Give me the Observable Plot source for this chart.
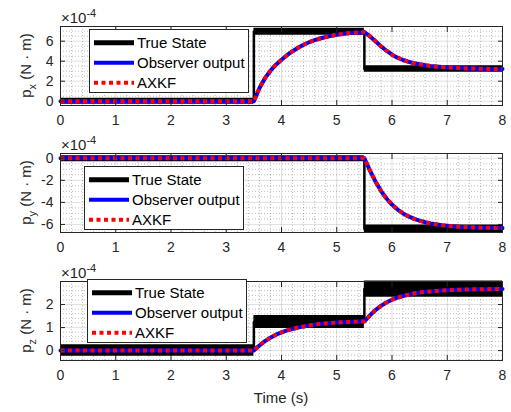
<!DOCTYPE html>
<html><head><meta charset="utf-8">
<script src="https://cdn.jsdelivr.net/npm/d3@7"></script>
<script src="https://cdn.jsdelivr.net/npm/@observablehq/plot@0.6"></script>
<style>
body{margin:0;background:#fff;}
#chart{position:relative;width:511px;height:412px;background:#fff;overflow:hidden;}
#chart > div{position:absolute;left:0;}
</style></head><body><div id="chart"></div>
<script>
// ---- data ----
const seriesNames = ["True State", "Observer output", "AXKF"];
const xTicks = [0, 1, 2, 3, 4, 5, 6, 7, 8];
const pxTicks = [0, 2, 4, 6];
const pyTicks = [-6, -4, -2, 0];
const pzTicks = [0, 1, 2];

// estimator time samples (s)
const tEst = [0, 3.5, 3.6, 3.7, 3.8, 3.9, 4.0, 4.1, 4.2, 4.3, 4.4, 4.5, 4.6, 4.7, 4.8, 4.9, 5.0, 5.1, 5.2, 5.3, 5.4, 5.5,
  5.6, 5.7, 5.8, 5.9, 6.0, 6.1, 6.2, 6.3, 6.4, 6.5, 6.6, 6.7, 6.8, 6.9, 7.0, 7.1, 7.2, 7.3, 7.4, 7.5, 7.6, 7.7, 7.8, 7.9, 8.0];
// observer output (AXKF coincides) in units of 1e-4 N·m
const pxEst = [0, 0, 1.3, 2.3, 3.05, 3.65, 4.15, 4.6, 5.0, 5.35, 5.65, 5.9, 6.1, 6.27, 6.42, 6.54, 6.64, 6.72, 6.79, 6.84, 6.88, 6.9,
  6.5, 6.0, 5.5, 5.05, 4.65, 4.35, 4.12, 3.94, 3.8, 3.69, 3.6, 3.52, 3.46, 3.41, 3.37, 3.34, 3.31, 3.29, 3.27, 3.26, 3.25, 3.24, 3.23, 3.23, 3.22];
const pyEst = [0, 0, 0, 0, 0, 0, 0, 0, 0, 0, 0, 0, 0, 0, 0, 0, 0, 0, 0, 0, 0, 0,
  -1.1, -2.1, -2.95, -3.65, -4.2, -4.65, -5.0, -5.27, -5.49, -5.66, -5.8, -5.91, -5.99, -6.07, -6.12, -6.17, -6.2, -6.23, -6.25, -6.27, -6.29, -6.3, -6.31, -6.32, -6.33];
const pzEst = [0, 0, 0.22, 0.41, 0.56, 0.69, 0.79, 0.88, 0.94, 1.0, 1.05, 1.09, 1.13, 1.16, 1.18, 1.2, 1.22, 1.23, 1.24, 1.25, 1.26, 1.27,
  1.53, 1.76, 1.94, 2.09, 2.21, 2.3, 2.37, 2.43, 2.48, 2.52, 2.55, 2.57, 2.59, 2.61, 2.62, 2.63, 2.64, 2.65, 2.65, 2.66, 2.66, 2.66, 2.67, 2.67, 2.67];

// true state: piecewise-constant levels between switch times, with noise spread
const tSwitch = [0, 3.5, 5.5, 8];
const pxTrue = [0, 6.95, 3.22];
const pxSpread = [0.3, 0.35, 0.33];
const pyTrue = [-0.05, -0.05, -6.4];
const pySpread = [0.27, 0.27, 0.36];
const pzTrue = [0, 1.24, 2.67];
const pzSpread = [0.25, 0.28, 0.35];

// ---- drawing ----
const INK = "#262626";
const FONT = "'Liberation Sans', Arial, Helvetica, sans-serif";
const legendStyles = [
  {stroke: "black", width: 5, dash: null},
  {stroke: "blue", width: 4, dash: null},
  {stroke: "red", width: 4, dash: "4,3.5"}
];

function panel(cfg) {
  const segs = [], steps = [];
  cfg.level.forEach((v, i) => {
    segs.push({x: tSwitch[i], y1: v - cfg.spread[i], y2: v + cfg.spread[i], s: i});
    segs.push({x: tSwitch[i + 1], y1: v - cfg.spread[i], y2: v + cfg.spread[i], s: i});
    steps.push({x: tSwitch[i], y: v}, {x: tSwitch[i + 1], y: v});
  });
  const est = tEst.map((t, i) => ({x: t, y: cfg.est[i]}));
  const [d0, d1] = cfg.domain;
  const minorY = d3.range(Math.ceil(d0 / cfg.minor) * cfg.minor, d1, cfg.minor)
    .filter(v => !cfg.ticks.some(t => Math.abs(t - v) < 1e-9));
  const minorX = d3.range(0.2, 8, 0.2).filter(v => Math.abs(v - Math.round(v)) > 1e-6);
  const svg = Plot.plot({
    width: 511, height: cfg.height,
    marginTop: 26, marginLeft: 60, marginRight: 9, marginBottom: cfg.height - 26 - 79,
    style: {fontFamily: FONT, fontSize: "15px", color: INK, background: "white", overflow: "visible"},
    x: {domain: [0, 8]},
    y: {domain: cfg.domain},
    marks: [
      Plot.gridX(minorX, {stroke: INK, strokeOpacity: 0.3, strokeDasharray: "1,2"}),
      Plot.gridY(minorY, {stroke: INK, strokeOpacity: 0.3, strokeDasharray: "1,2"}),
      Plot.gridX(xTicks, {stroke: INK, strokeOpacity: 0.15}),
      Plot.gridY(cfg.ticks, {stroke: INK, strokeOpacity: 0.15}),
      Plot.areaY(segs, {x: "x", y1: "y1", y2: "y2", z: "s", fill: "black"}),
      Plot.line(steps, {x: "x", y: "y", stroke: "black", strokeWidth: 2.5}),
      Plot.line(est, {x: "x", y: "y", stroke: "blue", strokeWidth: 4}),
      Plot.line(est, {x: "x", y: "y", stroke: "red", strokeWidth: 4, strokeDasharray: "4,3.5", strokeLinecap: "butt"}),
      Plot.frame({stroke: INK}),
      Plot.axisX(xTicks, {anchor: "bottom", tickSize: -5, fill: "none", stroke: INK, label: null}),
      Plot.axisX(xTicks, {anchor: "top", tickSize: -5, fill: "none", stroke: INK, label: null}),
      Plot.axisY(cfg.ticks, {anchor: "left", tickSize: -5, fill: "none", stroke: INK, label: null}),
      Plot.axisY(cfg.ticks, {anchor: "right", tickSize: -5, fill: "none", stroke: INK, label: null}),
      Plot.axisX(xTicks, {anchor: "bottom", tickSize: 0, tickPadding: 10, fill: INK, fontSize: 14, label: null, tickFormat: d => String(d)}),
      Plot.axisY(cfg.ticks, {anchor: "left", tickSize: 0, tickPadding: 7, fill: INK, fontSize: 14, label: null, tickFormat: d => String(d)})
    ]
  });
  const s = d3.select(svg);
  // exponent label
  const ex = s.append("text").attr("x", 61).attr("y", 23).attr("fill", INK).attr("text-anchor", "start")
    .style("font-family", FONT).style("font-size", "15px");
  ex.append("tspan").text("×10");
  ex.append("tspan").attr("dy", -6).style("font-size", "11px").text("-4");
  // y label
  const cy = 26 + 79 / 2;
  const yl = s.append("text").attr("x", 31).attr("y", cy).attr("text-anchor", "middle")
    .attr("transform", `rotate(-90,31,${cy})`).attr("fill", INK)
    .style("font-family", FONT).style("font-size", "15px");
  yl.append("tspan").text("p");
  yl.append("tspan").attr("dy", 5).style("font-size", "11px").text(cfg.sub);
  yl.append("tspan").attr("dy", -5).text(" (N · m)");
  // legend
  const g = s.append("g");
  const L = cfg.legend[0], T = cfg.legend[1];
  g.append("rect").attr("x", L + 0.5).attr("y", T + 0.5).attr("width", 159).attr("height", 63)
    .attr("fill", "white").attr("stroke", INK);
  seriesNames.forEach((name, i) => {
    const y = T + 13.7 + 20 * i;
    const st = legendStyles[i];
    const ln = g.append("line").attr("x1", L + 5).attr("x2", L + 45).attr("y1", y).attr("y2", y)
      .attr("stroke", st.stroke).attr("stroke-width", st.width).attr("stroke-linecap", "butt");
    if (st.dash) ln.attr("stroke-dasharray", st.dash);
    g.append("text").attr("x", L + 48).attr("y", y).attr("dy", "0.35em").attr("fill", "black")
      .attr("text-anchor", "start")
      .style("font-family", FONT).style("font-size", "15px").text(name);
  });
  if (cfg.xlabel) {
    s.append("text").attr("x", 281).attr("y", cfg.height - 9).attr("text-anchor", "middle").attr("fill", INK)
      .style("font-family", FONT).style("font-size", "15px").text(cfg.xlabel);
  }
  const div = document.createElement("div");
  div.style.top = cfg.top + "px";
  div.appendChild(svg);
  document.getElementById("chart").appendChild(div);
}

panel({top: 0, height: 131, domain: [-0.43, 7.47], ticks: pxTicks, minor: 0.5, est: pxEst, level: pxTrue, spread: pxSpread, sub: "x", legend: [89, 29]});
panel({top: 127, height: 128, domain: [-6.73, 0.43], ticks: pyTicks, minor: 0.5, est: pyEst, level: pyTrue, spread: pySpread, sub: "y", legend: [84, 39]});
panel({top: 255, height: 157, domain: [-0.43, 3.0], ticks: pzTicks, minor: 0.2, est: pzEst, level: pzTrue, spread: pzSpread, sub: "z", legend: [87, 24], xlabel: "Time (s)"});
</script></body></html>
